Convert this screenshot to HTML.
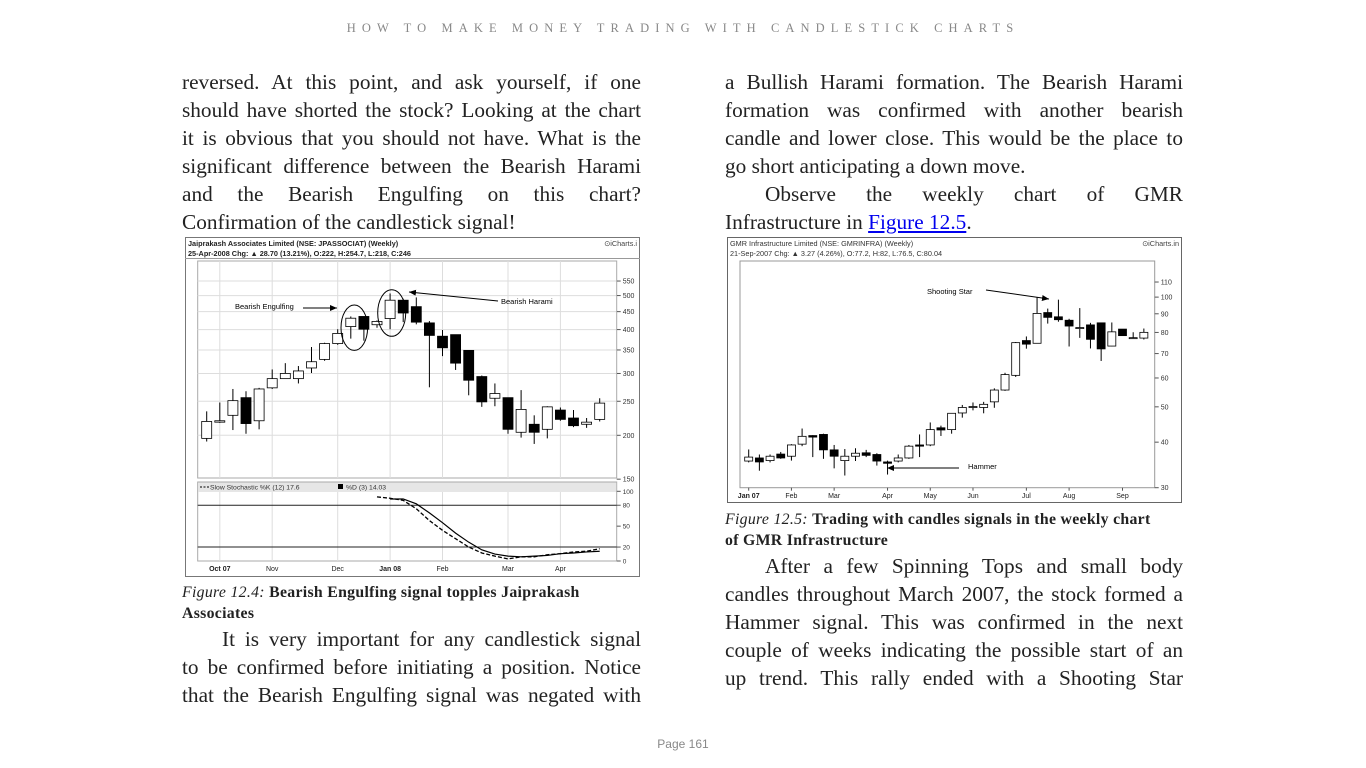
<!DOCTYPE html>
<html><head><meta charset="utf-8">
<style>
body{margin:0;width:1366px;height:768px;background:#fff;position:relative;overflow:hidden;font-family:"Liberation Serif",serif;color:#222}
.hdr{position:absolute;top:21px;left:0;width:1366px;text-align:center;font-size:12.5px;letter-spacing:6.1px;color:#888;font-family:"Liberation Serif",serif}
.ln{position:absolute;height:28px;line-height:28px;font-size:21.3px;white-space:nowrap}
.L{left:182px;width:459px}.R{left:725px;width:458px}
.j{text-align:justify;text-align-last:justify}
.ind{padding-left:40px;box-sizing:border-box}
.cap{position:absolute;font-size:15.8px;letter-spacing:0.3px;line-height:21px;white-space:nowrap}
.pg{position:absolute;top:737px;left:0;width:1366px;text-align:center;font-family:"Liberation Sans",sans-serif;font-size:12px;color:#888}
a{color:#00e;text-decoration:underline}
svg text{font-family:"Liberation Sans",sans-serif}
</style></head><body>
<div class="hdr">HOW TO MAKE MONEY TRADING WITH CANDLESTICK CHARTS</div>

<div class="ln L j" style="top:68px">reversed. At this point, and ask yourself, if one</div>
<div class="ln L j" style="top:96px">should have shorted the stock? Looking at the chart</div>
<div class="ln L j" style="top:124px">it is obvious that you should not have. What is the</div>
<div class="ln L j" style="top:152px">significant difference between the Bearish Harami</div>
<div class="ln L j" style="top:180px">and the Bearish Engulfing on this chart?</div>
<div class="ln L" style="top:208px">Confirmation of the candlestick signal!</div>

<svg id="c1" style="position:absolute;left:185px;top:237px" width="455" height="340"></svg>

<div class="cap" style="left:182px;top:582px"><i>Figure 12.4:</i> <b>Bearish Engulfing signal topples Jaiprakash</b><br><b>Associates</b></div>
<div class="ln L j ind" style="top:625px">It is very important for any candlestick signal</div>
<div class="ln L j" style="top:653px">to be confirmed before initiating a position. Notice</div>
<div class="ln L j" style="top:681px">that the Bearish Engulfing signal was negated with</div>

<div class="ln R j" style="top:68px">a Bullish Harami formation. The Bearish Harami</div>
<div class="ln R j" style="top:96px">formation was confirmed with another bearish</div>
<div class="ln R j" style="top:124px">candle and lower close. This would be the place to</div>
<div class="ln R" style="top:152px">go short anticipating a down move.</div>
<div class="ln R j ind" style="top:180px">Observe the weekly chart of GMR</div>
<div class="ln R" style="top:208px">Infrastructure in <a>Figure 12.5</a>.</div>

<svg id="c2" style="position:absolute;left:727px;top:237px" width="455" height="268"></svg>

<div class="cap" style="left:725px;top:509px"><i>Figure 12.5:</i> <b>Trading with candles signals in the weekly chart</b><br><b>of GMR Infrastructure</b></div>
<div class="ln R j ind" style="top:552px">After a few Spinning Tops and small body</div>
<div class="ln R j" style="top:580px">candles throughout March 2007, the stock formed a</div>
<div class="ln R j" style="top:608px">Hammer signal. This was confirmed in the next</div>
<div class="ln R j" style="top:636px">couple of weeks indicating the possible start of an</div>
<div class="ln R j" style="top:664px">up trend. This rally ended with a Shooting Star</div>

<div class="pg">Page 161</div>

<script>
// ---- Chart 1 data (JPASSOCIAT weekly) ----
const leftOpen  = [196,218,228,256,220,273,290,290,311,329,365,408,436,413,430,485,465,418,383,387,349,294,255,256,204,215,208,236,224,215,222];
const leftHigh  = [234,248,271,267,273,308,321,315,357,367,401,436,436,425,507,490,494,423,399,387,349,296,281,256,269,228,242,240,236,224,255];
const leftLow   = [192,217,207,202,208,271,290,281,301,326,362,377,372,405,401,420,414,274,336,307,260,241,242,202,197,189,196,220,211,210,219];
const leftClose = [219,220,251,216,271,290,300,305,324,365,390,431,401,422,485,446,420,385,355,321,287,249,263,208,237,204,241,222,213,218,247];
const leftPriceTicks = [550,500,450,400,350,300,250,200,150];
const leftMonthLabels = ["Oct 07","Nov","Dec","Jan 08","Feb","Mar","Apr"];
const leftMonthIdx = [1,5,10,14,18,23,27];
const stochK = [92,90,87,75,58,44,32,20,11.5,7,3,6,6,9,10.5,13,14,17.6]; // from idx 13
const stochKStart = 13;
const stochD = [89,89,82,69,55,40,27,16,10,7,6,7,8,10.5,11.5,13,14]; // from idx 14
const stochDStart = 14;
const stochTicks = [100,80,50,20,0];

// ---- Chart 2 data (GMRINFRA weekly) ----
const rightOpen  = [35.5,36.2,35.6,37.1,36.6,39.5,41.7,42,38.1,35.6,36.6,37.4,37,35.3,35.5,36.2,39.3,39.3,43.8,43.3,48.1,50,49.8,51.6,55.6,61,76,74.7,90.7,88.3,86.4,82.5,83.9,85,73.4,81.7,77.4,77.2];
const rightHigh  = [38.2,37,37,37.6,39.5,43.6,41.8,42.2,39.3,38.3,38.5,38.1,37.3,35.6,37,39.3,42,45.3,44.4,48,50.6,51.4,51.6,56.2,62,75.3,78,99.9,93,98.4,87.2,93.3,85,85,85.2,81.7,80.1,82];
const rightLow   = [35.2,33.4,35.2,36,35.6,39,36.4,36,33.9,32.4,35.5,36.4,34.5,32.6,35.2,36,36.4,39,41.6,42.2,46.7,48.9,48,49.7,55.3,60.4,72.2,74.7,84.6,85.6,73.2,77.3,72.3,66.8,73.2,78.2,76.9,76.5];
const rightClose = [36.4,35.3,36.6,36.2,39.3,41.5,41.3,38.1,36.6,36.6,37.3,36.8,35.5,35,36.2,39,39,43.3,43.2,48,49.8,50.1,50.8,55.6,61.3,75,74.3,90.2,88,86.7,83.3,82.5,76.6,72.1,80.3,78.4,77.4,80.04];
const rightPriceTicks = [110,100,90,80,70,60,50,40,30];
const rightMonthLabels = ["Jan 07","Feb","Mar","Apr","May","Jun","Jul","Aug","Sep"];
const rightMonthIdx = [0,4,8,13,17,21,26,30,35];

const NS="http://www.w3.org/2000/svg";
function mk(parent,tag,attrs,txt){const e=document.createElementNS(NS,tag);for(const k in attrs)e.setAttribute(k,attrs[k]);if(txt!==undefined)e.textContent=txt;parent.appendChild(e);return e;}

// ===== Chart 1 =====
(function(){
const s=document.getElementById('c1');
const X0=12.7,X1=431.7,Y0=24,Y1=241;
const xS=i=>21.7+i*13.1;
const yS=p=>198.3-152.5*Math.log(p/200);
const yK=v=>324-0.697*v;
mk(s,'defs',{}).innerHTML='<marker id="ar" markerWidth="8" markerHeight="8" refX="7" refY="4" orient="auto"><path d="M0,1 L7,4 L0,7 z" fill="#000"/></marker>';
mk(s,'rect',{x:0.5,y:0.5,width:454,height:339,fill:'#fff',stroke:'#777'});
let t=mk(s,'text',{x:3,y:9,'font-size':7.3,'font-weight':'bold',fill:'#222'},'Jaiprakash Associates Limited (NSE: JPASSOCIAT) (Weekly)');

t=mk(s,'text',{x:3,y:19,'font-size':7.3,'font-weight':'bold',fill:'#222'},'25-Apr-2008 Chg: \u25B2 28.70 (13.21%), O:222, H:254.7, L:218, C:246');

t=mk(s,'text',{x:452,y:9,'font-size':7.3,fill:'#444','text-anchor':'end'},'\u2299iCharts.i');

mk(s,'line',{x1:0,y1:21.5,x2:455,y2:21.5,stroke:'#999'});
mk(s,'rect',{x:X0,y:Y0,width:X1-X0,height:Y1-Y0,fill:'#fff',stroke:'#aaa'});
mk(s,'rect',{x:X0,y:245,width:X1-X0,height:79,fill:'#fff',stroke:'#aaa'});
mk(s,'rect',{x:X0+0.5,y:245.5,width:X1-X0-1,height:9.5,fill:'#e6e6e6'});
leftMonthIdx.forEach((m,k)=>{const x=xS(m);
 mk(s,'line',{x1:x,y1:Y0,x2:x,y2:Y1,stroke:'#ddd'});
 mk(s,'line',{x1:x,y1:255,x2:x,y2:324,stroke:'#ddd'});
 const tt=mk(s,'text',{x:x,y:334,'font-size':7,'text-anchor':'middle',fill:'#222','font-weight':k==0||k==3?'bold':'normal'},leftMonthLabels[k]);
 });
leftPriceTicks.forEach(p=>{const y=yS(p);
 if(y>Y0&&y<Y1) mk(s,'line',{x1:X0,y1:y,x2:X1,y2:y,stroke:'#ddd'});
 mk(s,'line',{x1:X1,y1:y,x2:X1+4,y2:y,stroke:'#555'});
 const tt=mk(s,'text',{x:X1+6,y:y+2.5,'font-size':7,fill:'#333'},p);
 });
stochTicks.forEach(v=>{const y=yK(v);
 mk(s,'line',{x1:X1,y1:y,x2:X1+4,y2:y,stroke:'#555'});
 const tt=mk(s,'text',{x:X1+6,y:y+2.5,'font-size':6.5,fill:'#333'},v);
 });
[80,20].forEach(v=>mk(s,'line',{x1:X0,y1:yK(v),x2:X1,y2:yK(v),stroke:'#222','stroke-width':1}));
for(let i=0;i<leftOpen.length;i++){
 const x=xS(i),o=leftOpen[i],c=leftClose[i];
 const w=mk(s,'line',{x1:x,y1:yS(leftHigh[i]),x2:x,y2:yS(leftLow[i]),stroke:'#000','stroke-width':1});
 
 const top=yS(Math.max(o,c)),bot=yS(Math.min(o,c));
 const b=mk(s,'rect',{x:x-5,y:top,width:10,height:Math.max(1,bot-top),fill:c>=o?'#fff':'#000',stroke:'#000','stroke-width':0.8});
 
}
let dK=stochK.map((v,k)=>(k?'L':'M')+xS(stochKStart+k)+','+yK(v)).join(' ');
let dD=stochD.map((v,k)=>(k?'L':'M')+xS(stochDStart+k)+','+yK(v)).join(' ');
let pK=mk(s,'path',{d:dK,fill:'none',stroke:'#000','stroke-width':1.3,'stroke-dasharray':'4,2'});

let pD=mk(s,'path',{d:dD,fill:'none',stroke:'#000','stroke-width':1.2});

mk(s,'line',{x1:15,y1:250,x2:24,y2:250,stroke:'#000','stroke-dasharray':'2,1.5'});
t=mk(s,'text',{x:25,y:252.5,'font-size':6.8,fill:'#333'},'Slow Stochastic %K (12) 17.6');

mk(s,'rect',{x:153,y:247,width:5,height:5,fill:'#000'});
t=mk(s,'text',{x:161,y:252.5,'font-size':6.8,fill:'#333'},'%D (3) 14.03');

t=mk(s,'text',{x:50,y:72,'font-size':7.5,'font-family':'Liberation Serif,serif',fill:'#000'},'Bearish Engulfing');

mk(s,'line',{x1:118,y1:71,x2:152,y2:71,stroke:'#000','marker-end':'url(#ar)'});
mk(s,'ellipse',{cx:169.3,cy:90.7,rx:13.3,ry:22.7,fill:'none',stroke:'#000'});
mk(s,'ellipse',{cx:206.7,cy:76,rx:14,ry:23.3,fill:'none',stroke:'#000'});
t=mk(s,'text',{x:316,y:67,'font-size':7.5,'font-family':'Liberation Serif,serif',fill:'#000'},'Bearish Harami');

mk(s,'line',{x1:313,y1:64,x2:224,y2:55,stroke:'#000','marker-end':'url(#ar)'});
})();

// ===== Chart 2 =====
(function(){
const s=document.getElementById('c2');
const X0=13,X1=427.7,Y0=24,Y1=250.7;
const xS=i=>21.7+i*10.68;
const yS=p=>250.7-158.3*Math.log(p/30);
mk(s,'defs',{}).innerHTML='<marker id="ar2" markerWidth="8" markerHeight="8" refX="7" refY="4" orient="auto"><path d="M0,1 L7,4 L0,7 z" fill="#000"/></marker>';
mk(s,'rect',{x:0.5,y:0.5,width:454,height:265,fill:'#fff',stroke:'#666'});
let t=mk(s,'text',{x:3,y:9,'font-size':7.3,fill:'#333'},'GMR Infrastructure Limited (NSE: GMRINFRA) (Weekly)');

t=mk(s,'text',{x:3,y:19,'font-size':7.3,fill:'#333'},'21-Sep-2007 Chg: \u25B2 3.27 (4.26%), O:77.2, H:82, L:76.5, C:80.04');

t=mk(s,'text',{x:452,y:9,'font-size':7.3,fill:'#444','text-anchor':'end'},'\u2299iCharts.in');

mk(s,'rect',{x:X0,y:Y0,width:X1-X0,height:Y1-Y0,fill:'#fff',stroke:'#999'});
rightMonthIdx.forEach((m,k)=>{const x=xS(m);
 mk(s,'line',{x1:x,y1:Y1,x2:x,y2:Y1+3,stroke:'#555'});
 const tt=mk(s,'text',{x:x,y:261,'font-size':7,'text-anchor':'middle',fill:'#222','font-weight':k==0?'bold':'normal'},rightMonthLabels[k]);
 });
rightPriceTicks.forEach(p=>{const y=yS(p);
 mk(s,'line',{x1:X1,y1:y,x2:X1+4,y2:y,stroke:'#555'});
 const tt=mk(s,'text',{x:X1+6,y:y+2.5,'font-size':7,fill:'#333'},p);
 });
for(let i=0;i<rightOpen.length;i++){
 const x=xS(i),o=rightOpen[i],c=rightClose[i];
 const w=mk(s,'line',{x1:x,y1:yS(rightHigh[i]),x2:x,y2:yS(rightLow[i]),stroke:'#000','stroke-width':1});
 
 const top=yS(Math.max(o,c)),bot=yS(Math.min(o,c));
 const b=mk(s,'rect',{x:x-4,y:top,width:8,height:Math.max(1,bot-top),fill:c>=o?'#fff':'#000',stroke:'#000','stroke-width':0.8});
 
}
t=mk(s,'text',{x:200,y:57,'font-size':7.5,'font-family':'Liberation Serif,serif',fill:'#000'},'Shooting Star');

mk(s,'line',{x1:259,y1:53,x2:322,y2:62,stroke:'#000','marker-end':'url(#ar2)'});
t=mk(s,'text',{x:241,y:232,'font-size':7.5,'font-family':'Liberation Serif,serif',fill:'#000'},'Hammer');

mk(s,'line',{x1:232,y1:231,x2:160,y2:231,stroke:'#000','marker-end':'url(#ar2)'});
})();
</script>
</body></html>
